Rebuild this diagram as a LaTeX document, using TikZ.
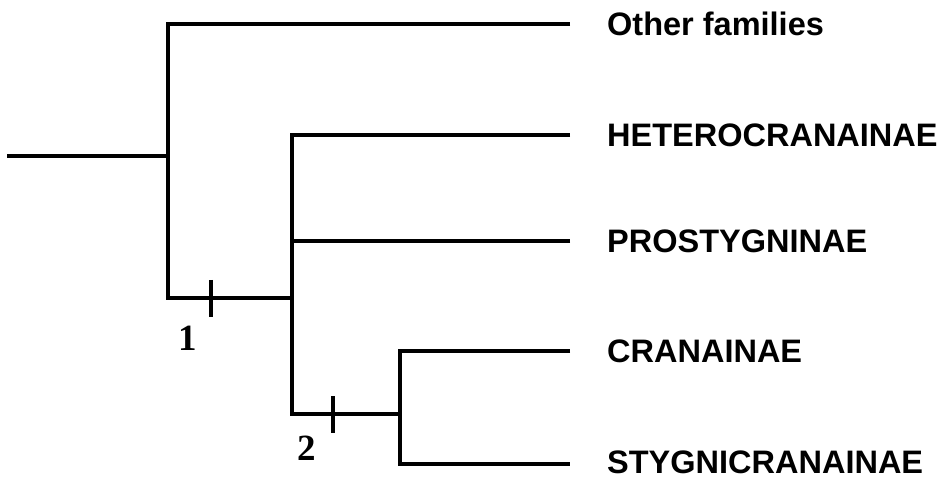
\documentclass[tikz,border=0pt]{standalone}
\usepackage{fontspec}
\setmainfont{Liberation Sans}
\newfontfamily\numfont{Liberation Serif}
\usetikzlibrary{arrows,%
                shapes,positioning}
\tikzset{branch/.style={line width=4pt},
         taxon/.style={inner sep=0pt,font=\fontsize{32.5}{32.5}\selectfont\bfseries},
         stepno/.style={inner sep=0pt,anchor=base,font=\fontsize{37}{37}\numfont\bfseries}}

\begin{document}
\begin{tikzpicture}[x=1pt,y=-1pt]
\useasboundingbox (0,0) rectangle (946,481);
\coordinate (RA) at (7,156);
\coordinate (RB) at (168,156);
\coordinate (OF) at (570,24);
\coordinate (BA) at (168,298);
\coordinate (BB) at (292,298);
\coordinate (HE) at (570,135);
\coordinate (PR) at (570,241);
\coordinate (PB) at (292,241);
\coordinate (CA) at (292,414);
\coordinate (CB) at (400,414);
\coordinate (CR) at (570,351);
\coordinate (SC) at (400,464);
\coordinate (ST) at (570,464);

\coordinate (TA) at (211,280);
\coordinate (TB) at (211,317);
\coordinate (UA) at (333,396);
\coordinate (UB) at (333,433);

\node[taxon, right=37pt of OF] (OFl) {Other families};
\node[taxon, right=37pt of HE] (HEl) {HETEROCRANAINAE};
\node[taxon, right=37pt of PR] (PRl) {PROSTYGNINAE};
\node[taxon, right=37pt of CR] (CRl) {CRANAINAE};
\node[taxon, right=37pt of ST, yshift=1.5pt] (STl) {STYGNICRANAINAE};

\node[stepno] (one) at (188,351) {1};
\node[stepno] (two) at (307,460) {2};

\draw[branch] (RA) -- (RB);
\draw[branch] (OF) -| (BA) -- (BB);
\draw[branch] (HE) -| (CA) -- (CB);
\draw[branch] (PR) -- (PB);
\draw[branch] (CR) -| (SC) -- (ST);
\draw[branch] (TA) -- (TB);
\draw[branch] (UA) -- (UB);

\end{tikzpicture}
\end{document}
